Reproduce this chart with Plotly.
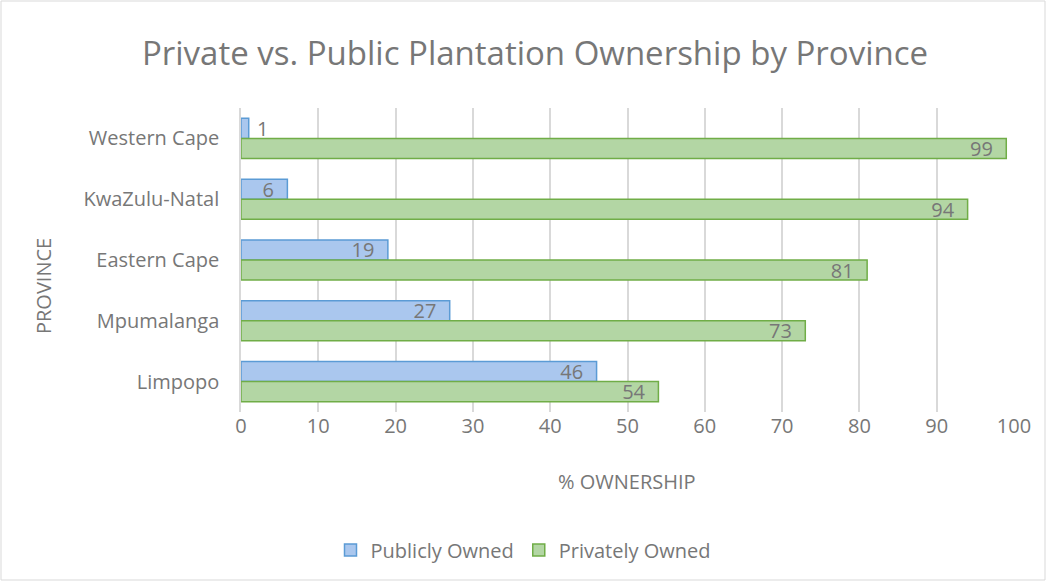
import plotly.graph_objects as go

provinces = ["Western Cape", "KwaZulu-Natal", "Eastern Cape", "Mpumalanga", "Limpopo"]
public_owned = [1, 6, 19, 27, 46]
private_owned = [99, 94, 81, 73, 54]
x_ticks = [0, 10, 20, 30, 40, 50, 60, 70, 80, 90, 100]

FONT = "Open Sans"
GRAY = "#777777"
L, R, T, B = 241, 33, 108, 170
PW, PH = 1047 - L - R, 582 - T - B
NB = "\u00a0"


def px_x(px):
    return (px - L) / PW


def px_y(py):
    return (582 - B - py) / PH


def labels(vals):
    # small bars get their label outside the bar end, others inside with padding
    pos = ["outside" if v < 4 else "inside" for v in vals]
    txt = [(NB + str(v)) if v < 4 else (str(v) + NB + NB) for v in vals]
    return pos, txt


fig = go.Figure()
for name, vals, fill, edge in [
    ("Publicly Owned", public_owned, "#aac7ee", "#5b9bd5"),
    ("Privately Owned", private_owned, "#b3d6a4", "#70ad47"),
]:
    pos, txt = labels(vals)
    fig.add_trace(go.Bar(
        y=provinces, x=vals, orientation="h", name=name,
        marker=dict(color=fill, line=dict(color=edge, width=1.5)),
        text=txt, textposition=pos,
        insidetextanchor="end", textangle=0, constraintext="none",
        textfont=dict(family=FONT, size=20, color=GRAY),
        insidetextfont=dict(family=FONT, size=20, color=GRAY),
        outsidetextfont=dict(family=FONT, size=20, color=GRAY),
        cliponaxis=False,
    ))

fig.update_layout(
    width=1047, height=582,
    margin=dict(l=L, r=R, t=T, b=B),
    paper_bgcolor="white", plot_bgcolor="white",
    barmode="group", bargap=0.34, bargroupgap=0.0,
    font=dict(family=FONT, color=GRAY, size=20),
    title=dict(text="Private vs. Public Plantation Ownership by Province",
               x=535/1047, xref="container", xanchor="center",
               y=1 - 53/582, yref="container", yanchor="middle",
               font=dict(family=FONT, size=33, color=GRAY)),
    xaxis=dict(range=[0, 100], tickvals=x_ticks, showgrid=True, gridcolor="#d9d9d9",
               gridwidth=1.5, zeroline=False, showline=False, ticks="",
               ticklabelstandoff=0,
               tickfont=dict(size=20, color=GRAY)),
    yaxis=dict(autorange="reversed", showgrid=False, showline=True, linecolor="#d9d9d9",
               linewidth=1.5, ticks="", ticklabelstandoff=16,
               tickfont=dict(size=20, color=GRAY)),
    legend=dict(orientation="h", x=0.5, xanchor="center", xref="container",
                y=32/582, yanchor="middle", yref="container",
                font=dict(size=20, color=GRAY), traceorder="normal"),
    annotations=[
        dict(text="% OWNERSHIP", xref="paper", yref="paper",
             x=px_x(627), y=px_y(481), xanchor="center", yanchor="middle",
             showarrow=False, font=dict(size=20, color=GRAY)),
        dict(text="PROVINCE", xref="paper", yref="paper",
             x=px_x(43), y=px_y(286), xanchor="center", yanchor="middle",
             textangle=-90, showarrow=False, font=dict(size=20, color=GRAY)),
    ],
    shapes=[dict(type="rect", xref="paper", yref="paper",
                 x0=px_x(1), x1=px_x(1045), y0=px_y(580), y1=px_y(1),
                 line=dict(color="#d9d9d9", width=1), layer="below")],
)

fig.write_html("out.html")
